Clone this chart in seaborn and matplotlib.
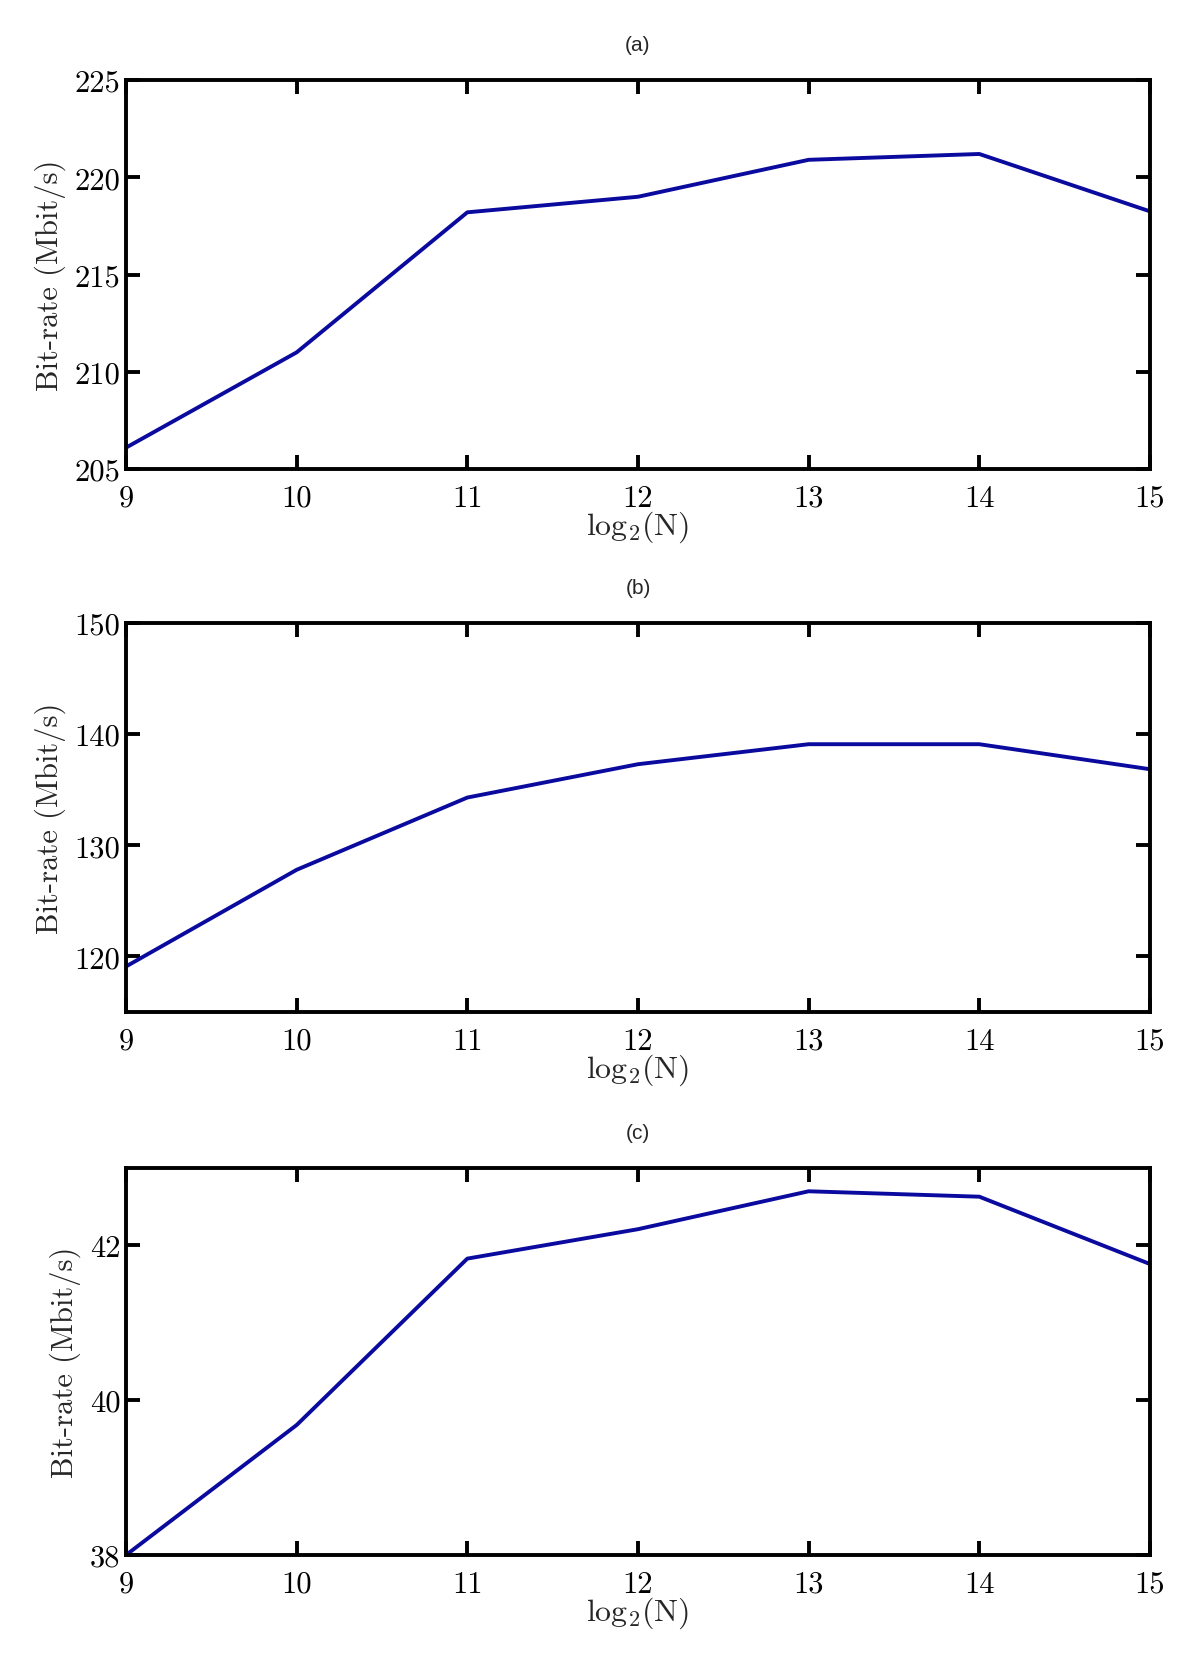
import matplotlib
matplotlib.use("Agg")
import matplotlib.pyplot as plt
import seaborn as sns
import pandas as pd

log2N = [9, 10, 11, 12, 13, 14, 15]
rate_a = [206.1, 211.0, 218.2, 219.0, 220.9, 221.2, 218.25]
rate_b = [119.1, 127.8, 134.3, 137.3, 139.1, 139.1, 136.85]
rate_c = [38.0, 39.68, 41.83, 42.21, 42.70, 42.63, 41.76]

titles = ["(a)", "(b)", "(c)"]
ylims = [(205, 225), (115, 150), (38, 43)]
yticks = [[205, 210, 215, 220, 225], [120, 130, 140, 150], [38, 40, 42]]

sns.set_theme(style="white")
plt.rcParams["mathtext.fontset"] = "cm"
plt.rcParams["font.family"] = ["cmr10", "DejaVu Serif"]
plt.rcParams["axes.formatter.use_mathtext"] = True

fig = plt.figure(figsize=(12, 16.58), dpi=100)
positions = [
    [0.105, 0.7165, 0.8533, 0.2346],
    [0.105, 0.389, 0.8533, 0.2346],
    [0.105, 0.0615, 0.8533, 0.2334],
]

for pos, vals, title, yl, yt in zip(positions, [rate_a, rate_b, rate_c], titles, ylims, yticks):
    ax = fig.add_axes(pos)
    df = pd.DataFrame({"x": log2N, "y": vals})
    sns.lineplot(data=df, x="x", y="y", ax=ax, color="#0A0A9E", linewidth=2.8)
    ax.set_xlim(9, 15)
    ax.set_ylim(*yl)
    ax.set_xticks(log2N)
    ax.set_yticks(yt)
    ax.set_xticklabels([str(v) for v in log2N])
    ax.set_yticklabels([str(v) for v in yt])
    ax.tick_params(axis="both", which="both", direction="in", length=10, width=2.8,
                   top=True, right=True, bottom=True, left=True,
                   labelsize=22, colors="black")
    ax.tick_params(axis="x", pad=11)
    ax.tick_params(axis="y", pad=4)
    for s in ax.spines.values():
        s.set_visible(True)
        s.set_color("black")
        s.set_linewidth(2.8)
    ax.set_xlabel(r"$\mathrm{log}_2\mathrm{(N)}$", fontsize=23, labelpad=-2)
    ax.set_ylabel("Bit-rate (Mbit/s)", fontsize=22, labelpad=6)
    ax.set_title(title, fontsize=15, family=["Liberation Sans", "DejaVu Sans"], pad=22)
    ax.grid(False)

fig.savefig("out.png", dpi=100)
